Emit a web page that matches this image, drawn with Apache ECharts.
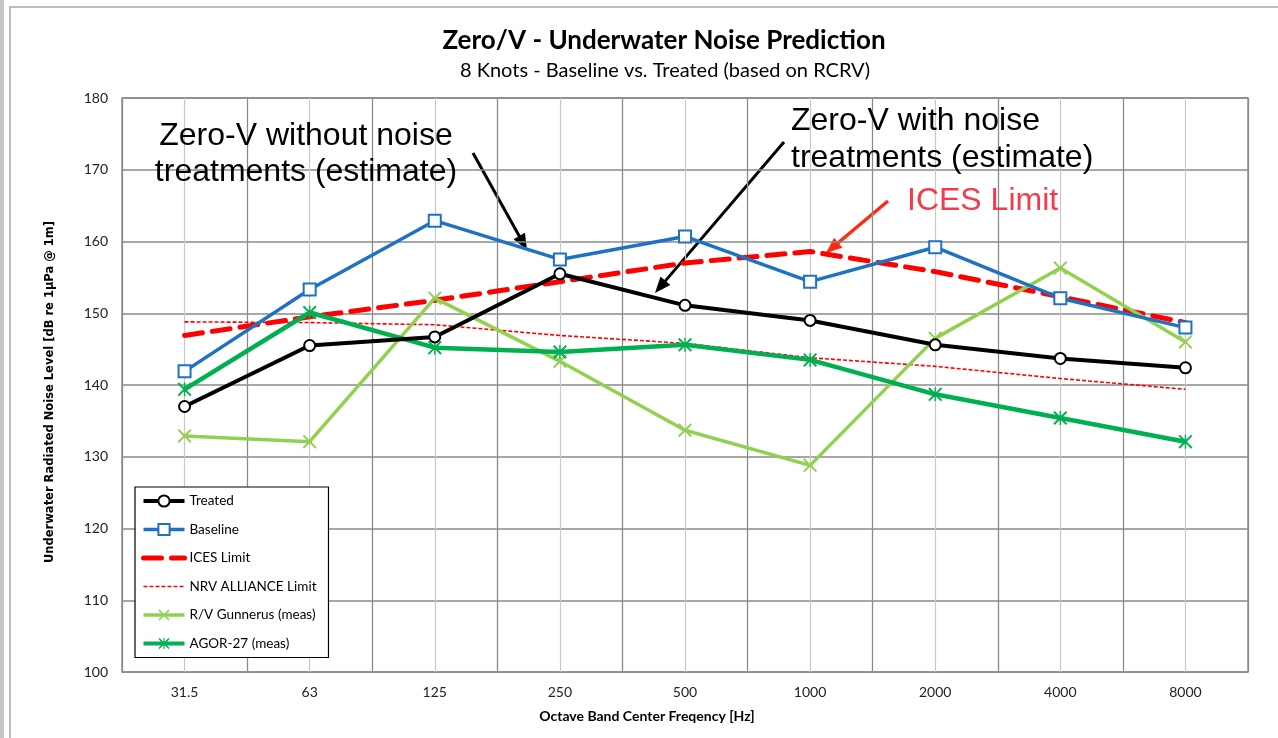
<!DOCTYPE html>
<html>
<head>
<meta charset="utf-8">
<title>Zero/V - Underwater Noise Prediction</title>
<script src="https://cdn.jsdelivr.net/npm/echarts@6/dist/echarts.min.js"></script>
<style>
  html, body { margin: 0; padding: 0; background: #fff; }
  #chart { width: 1278px; height: 738px; }
</style>
</head>
<body>
<div id="chart"></div>
<script>
// octave bands
var bands = ['31.5', '63', '125', '250', '500', '1000', '2000', '4000', '8000'];

// values, dB re 1uPa @ 1m
var treated   = [137.0, 145.5, 146.7, 155.5, 151.1, 149.0, 145.6, 143.7, 142.4];
var baseline  = [141.9, 153.3, 162.9, 157.5, 160.7, 154.4, 159.2, 152.1, 148.0];
var icesLimit = [146.9, 149.5, 151.8, 154.4, 157.0, 158.6, 155.8, 152.3, 148.7];
var nrvLimit  = [148.8, 148.7, 148.4, 146.9, 145.8, 143.8, 142.6, 140.9, 139.4];
var gunnerus  = [132.9, 132.1, 152.1, 143.3, 133.7, 128.8, 146.5, 156.3, 146.0];
var agor27    = [139.4, 150.1, 145.2, 144.6, 145.6, 143.5, 138.7, 135.4, 132.1];

var yTicks = { min: 100, max: 180, step: 10 };

// marker shapes
var xMark = 'path://M2,0 L10,8 L18,0 L20,2 L12,10 L20,18 L18,20 L10,12 L2,20 L0,18 L8,10 L0,2 Z';
var starMark = 'path://M2,0 L10,8 L18,0 L20,2 L12,10 L20,18 L18,20 L10,12 L2,20 L0,18 L8,10 L0,2 Z M9,0 L11,0 L11,20 L9,20 Z';

// annotation arrow (line + filled head)
function arrow(p1, p2, color, w) {
    var dx = p2[0] - p1[0], dy = p2[1] - p1[1];
    var len = Math.sqrt(dx * dx + dy * dy);
    var ux = dx / len, uy = dy / len;
    var head = 16, hw = 6.5;
    var bx = p2[0] - ux * head, by = p2[1] - uy * head;
    return {
        type: 'group',
        z: 100,
        children: [
            { type: 'line', shape: { x1: p1[0], y1: p1[1], x2: bx + ux * 2, y2: by + uy * 2 },
              style: { stroke: color, lineWidth: w } },
            { type: 'polygon', shape: { points: [p2, [bx - uy * hw, by + ux * hw], [bx + uy * hw, by - ux * hw]] },
              style: { fill: color } }
        ]
    };
}

var bigFont = '32px "Liberation Sans", Arial, sans-serif';
var noMark = { opacity: 0 };

var chart = echarts.init(document.getElementById('chart'));
var option = {
    animation: false,
    backgroundColor: '#fff',
    textStyle: { fontFamily: 'Lato, "Open Sans", sans-serif' },
    title: [
        { text: 'Zero/V - Underwater Noise Prediction', left: 664, top: 28, textAlign: 'center', padding: 0,
          textStyle: { fontSize: 26, fontWeight: 'bold', color: '#000', fontFamily: 'Lato, sans-serif' } },
        { text: '8 Knots - Baseline vs. Treated (based on RCRV)', left: 665, top: 61, textAlign: 'center', padding: 0,
          textStyle: { fontSize: 20, fontWeight: 'normal', color: '#000', fontFamily: 'Lato, sans-serif' } },
        { text: 'Octave Band Center Freqency [Hz]', left: 647, top: 709, textAlign: 'center', padding: 0,
          textStyle: { fontSize: 14, fontWeight: 'bold', color: '#000', fontFamily: 'Lato, sans-serif' } }
    ],
    grid: { left: 122, right: 30, top: 98, bottom: 66, show: true, borderColor: '#8a8a8a', borderWidth: 1.5 },
    legend: {
        orient: 'vertical', left: 135, top: 487,
        itemWidth: 41, itemHeight: 14, itemGap: 14.5,
        padding: [7, 12, 7, 6],
        backgroundColor: '#fff', borderColor: '#000', borderWidth: 1.2,
        textStyle: { fontSize: 13.5, color: '#000', fontFamily: 'Lato, sans-serif' },
        data: [
            { name: 'Treated', lineStyle: { width: 4 } },
            { name: 'Baseline', lineStyle: { width: 3.5 } },
            { name: 'ICES Limit', itemStyle: noMark, lineStyle: { width: 5 } },
            { name: 'NRV ALLIANCE Limit', itemStyle: noMark, lineStyle: { width: 1.6 } },
            { name: 'R/V Gunnerus (meas)', lineStyle: { width: 3.5 } },
            { name: 'AGOR-27 (meas)', lineStyle: { width: 4 } }
        ]
    },
    xAxis: [
        { type: 'category', data: bands, boundaryGap: true, z: 1,
          axisLine: { show: false }, axisTick: { show: false },
          axisLabel: { fontSize: 14, color: '#222', margin: 13 },
          splitLine: { show: true, lineStyle: { color: '#8a8a8a', width: 1.2 } } },
        // half-band grid lines (lighter)
        { type: 'value', min: 0, max: bands.length * 2, interval: 1, z: 0,
          axisLine: { show: false }, axisTick: { show: false }, axisLabel: { show: false },
          splitLine: { show: true, lineStyle: { color: '#c8c8c8', width: 1.2 } } }
    ],
    yAxis: {
        type: 'value', min: yTicks.min, max: yTicks.max, interval: yTicks.step,
        name: 'Underwater Radiated Noise Level [dB re 1µPa @ 1m]',
        nameLocation: 'middle', nameGap: 66,
        nameTextStyle: { fontSize: 11.5, fontWeight: 'bold', color: '#000', fontFamily: '"DejaVu Sans", sans-serif', padding: [0, 14, 0, 0] },
        axisLine: { show: false }, axisTick: { show: false },
        axisLabel: { fontSize: 14, color: '#222', margin: 14 },
        splitLine: { lineStyle: { color: '#8a8a8a', width: 1.5 } }
    },
    series: [
        { name: 'ICES Limit', type: 'line', data: icesLimit, symbol: 'none', z: 3,
          lineStyle: { color: '#ff0000', width: 5, type: [18, 10], cap: 'round' },
          itemStyle: { color: '#ff0000' } },
        { name: 'NRV ALLIANCE Limit', type: 'line', data: nrvLimit, symbol: 'none', z: 3,
          lineStyle: { color: '#ff0000', width: 1.6, type: [4, 2] },
          itemStyle: { color: '#ff0000' } },
        { name: 'R/V Gunnerus (meas)', type: 'line', data: gunnerus, symbol: xMark, symbolSize: 14, z: 4,
          lineStyle: { color: '#92d050', width: 3.5 }, itemStyle: { color: '#92d050' } },
        { name: 'AGOR-27 (meas)', type: 'line', data: agor27, symbol: starMark, symbolSize: 14, z: 4,
          lineStyle: { color: '#00b050', width: 4.5 }, itemStyle: { color: '#00b050' } },
        { name: 'Baseline', type: 'line', data: baseline, symbol: 'emptyRect', symbolSize: 12, z: 5,
          lineStyle: { color: '#1f72c2', width: 3.5 }, itemStyle: { color: '#1f72c2', borderWidth: 2.2 } },
        { name: 'Treated', type: 'line', data: treated, symbol: 'emptyCircle', symbolSize: 11, z: 6,
          lineStyle: { color: '#000', width: 4 }, itemStyle: { color: '#000', borderWidth: 2.8 } }
    ],
    graphic: [
        { type: 'rect', shape: { x: 10, y: 7, width: 1300, height: 800 }, silent: true,
          style: { fill: 'none', stroke: '#a6a6a6', lineWidth: 1.5 } },
        { type: 'rect', shape: { x: 0, y: 0, width: 4, height: 738 }, silent: true,
          style: { fill: '#c4c4c4' } },
        { type: 'text', x: 306, y: 136, z: 100,
          style: { text: 'Zero-V without noise', font: bigFont, fill: '#000', align: 'center', verticalAlign: 'middle' } },
        { type: 'text', x: 306, y: 172, z: 100,
          style: { text: 'treatments (estimate)', font: bigFont, fill: '#000', align: 'center', verticalAlign: 'middle' } },
        { type: 'text', x: 791, y: 121, z: 100,
          style: { text: 'Zero-V with noise', font: bigFont, fill: '#000', align: 'left', verticalAlign: 'middle' } },
        { type: 'text', x: 791, y: 158, z: 100,
          style: { text: 'treatments (estimate)', font: bigFont, fill: '#000', align: 'left', verticalAlign: 'middle' } },
        { type: 'text', x: 907, y: 201, z: 100,
          style: { text: 'ICES Limit', font: bigFont, fill: '#f53a4c', align: 'left', verticalAlign: 'middle' } },
        arrow([473, 153], [527, 250], '#000', 3),
        arrow([784, 142], [655, 293], '#000', 3),
        arrow([888, 201], [826, 253], '#ff2a12', 3.5)
    ]
};
chart.setOption(option);
</script>
</body>
</html>
